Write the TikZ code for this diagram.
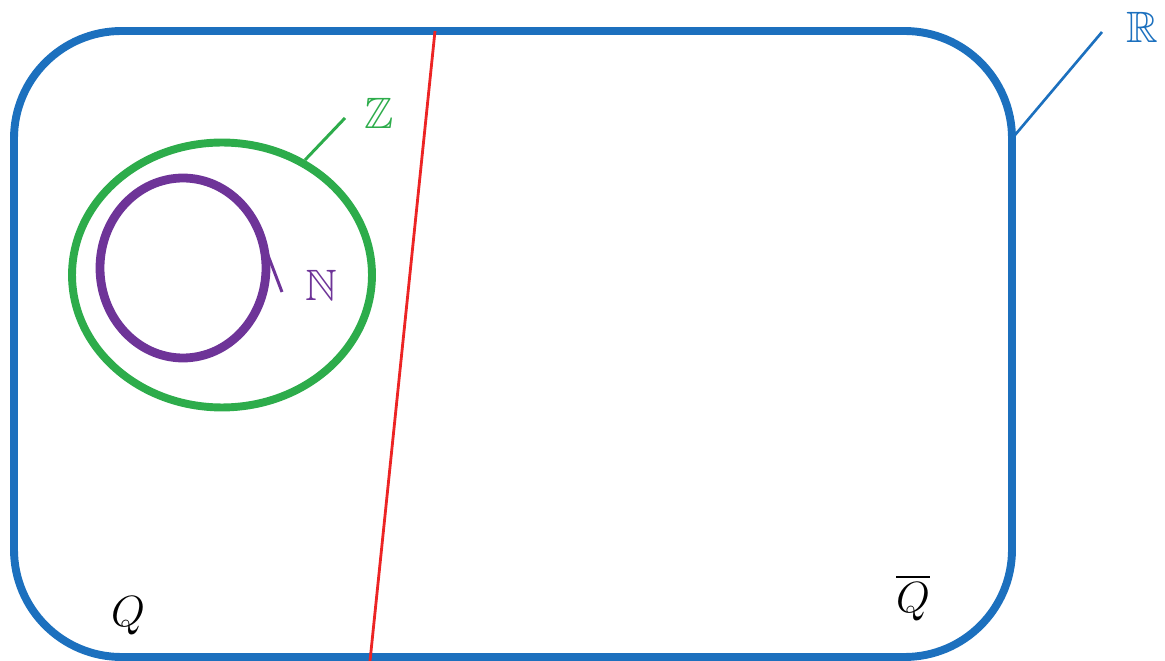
\documentclass[tikz,border=0pt]{standalone}
\usepackage{amssymb}
\usetikzlibrary{shapes.geometric}
\definecolor{rblue}{RGB}{28,112,190}
\definecolor{zgreen}{RGB}{45,172,75}
\definecolor{npurple}{RGB}{110,52,152}
\definecolor{qred}{RGB}{236,36,36}
\begin{document}
\begin{tikzpicture}[x=0.02cm,y=-0.02cm,
  setlabel/.style={inner sep=0pt,font=\fontsize{25}{30}\selectfont},
  qlabel/.style={inner sep=0pt,font=\fontsize{24}{29}\selectfont},
  setring/.style={ellipse,inner sep=0pt,line width=4.5pt}]
\useasboundingbox (0,0) rectangle (1165,661);
% R: rounded rectangle
\draw[rblue,line width=4.5pt,rounded corners=2.15cm] (14,31) rectangle (1012,657);
\coordinate (rpt) at (1015,135);
\node[setlabel,text=rblue] (R) at (1142,27) {$\mathbb{R}$};
\coordinate (rend) at (1102,32);
\draw[rblue,line width=1.5pt] (rpt) -- (rend);
% dividing line
\coordinate (top) at (435,31);
\coordinate (bot) at (370,661);
\draw[qred,line width=1.6pt] (top) -- (bot);
% Z
\node[setring,draw=zgreen,minimum width=6cm,minimum height=5.3cm] (Zs) at (222,275) {};
\node[setlabel,text=zgreen] (Z) at (379,113) {$\mathbb{Z}$};
\coordinate (zpt) at (305,160);
\coordinate (zend) at (345,118);
\draw[zgreen,line width=1.7pt] (zpt) -- (zend);
% N
\node[setring,draw=npurple,line width=5pt,minimum width=3.32cm,minimum height=3.6cm] (Ns) at (183,268) {};
\coordinate (nstart) at (266,250);
\coordinate (nend) at (282,292);
\draw[npurple,line width=1.7pt] (nstart) -- (nend);
\node[setlabel,text=npurple] (N) at (321,285) {$\mathbb{N}$};
% Q labels
\node[qlabel] (Q) at (128,616) {$Q$};
\node[qlabel] (Qbar) at (913,598) {$\overline{Q}$};
\end{tikzpicture}
\end{document}
